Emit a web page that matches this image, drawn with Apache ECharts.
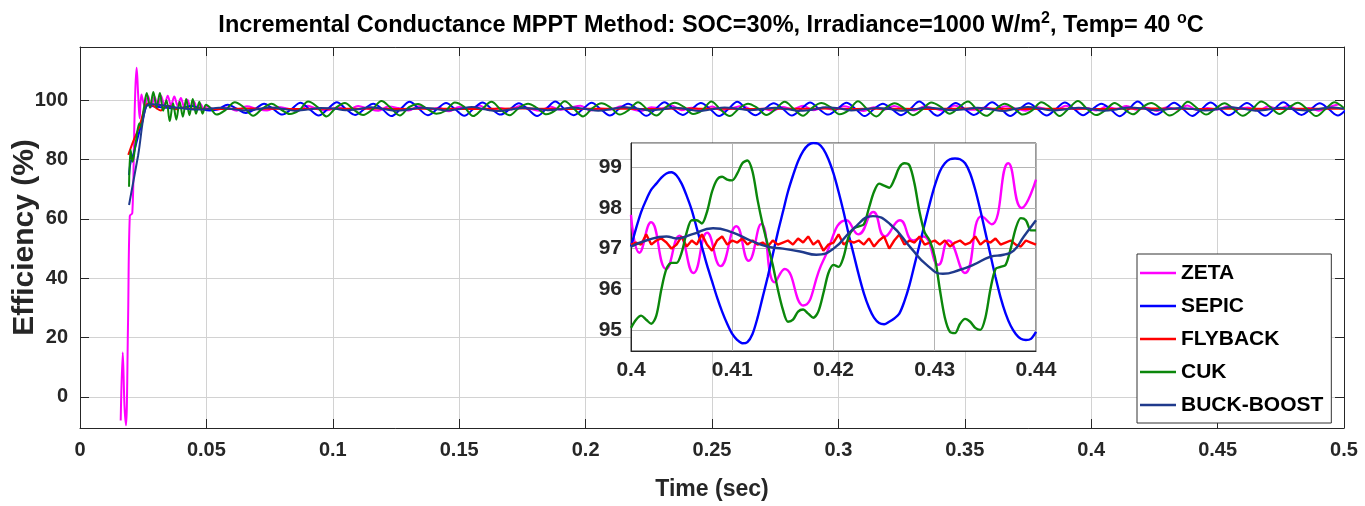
<!DOCTYPE html>
<html><head><meta charset="utf-8">
<script src="https://cdn.jsdelivr.net/npm/echarts@6/dist/echarts.min.js"></script>
<style>html,body{margin:0;padding:0;background:#fff}#c{width:1365px;height:506px}</style>
</head><body><div id="c"></div>
<script>
// ---------- names / colours ----------
const seriesNames = ['ZETA', 'SEPIC', 'FLYBACK', 'CUK', 'BUCK-BOOST'];
const seriesColors = ['#ff00ff', '#0000ff', '#ff0000', '#0b870b', '#1f3a8c'];

// ---------- main plot: start-up transients (time, value) ----------
const zetaEarlyT = [0.0161,0.0169,0.0176,0.0182,0.0190,0.0197,0.0207,0.0214,0.0219,0.0224,0.0230,0.0236,0.0243,0.0256,0.0269,0.0282,0.0295,0.0308,0.0321,0.0334,0.0347,0.0360,0.0373,0.0386,0.0399,0.0412,0.0425,0.0438,0.0451,0.0464,0.0477,0.0490];
const zetaEarlyV = [-8,15,-3,-9.6,25,61,62,88,104,111,102,94,102,98,101.5,97.8,101.2,98,101.5,98.2,101.6,98.3,101.3,98.2,100.8,97.8,100.2,97.5,99.5,97.2,98.8,97];
const sepicEarlyT = [0.0194,0.0200,0.0212,0.0230,0.0248,0.0262,0.0275,0.0288];
const sepicEarlyV = [74.8,79,82,88,93.5,98.0,98.4,98.1];
const flybackEarlyT = [0.0191,0.0210,0.0235,0.0250,0.0262,0.0275,0.0290,0.0305,0.0320,0.0335,0.0350,0.0365,0.0380,0.0400,0.0420];
const flybackEarlyV = [81.6,86.1,91.2,95.8,98.5,99,98.2,97.2,96.6,97.8,98.2,97.6,97.0,97.6,97.3];
const cukEarlyT = [0.0194,0.0200,0.0208,0.0222,0.0235,0.0242,0.0252,0.0264,0.0277,0.0290,0.0303,0.0316,0.0329,0.0342,0.0355,0.0368,0.0381,0.0394,0.0407,0.0420,0.0433,0.0446,0.0459,0.0472,0.0485,0.0498,0.0515];
const cukEarlyV = [70.9,83.3,79.3,86.7,92.3,91,97,102.5,97.5,102.8,97.6,102.5,96.5,100,93,99,93.5,99.5,94.5,100.5,95,100.5,95.5,99.5,95.5,98.5,97.5];
const buckEarlyT = [0.0194,0.0230,0.0266,0.0290,0.0320,0.0350,0.0380,0.0420,0.0460];
const buckEarlyV = [64.7,81.5,98.5,98.7,98.4,98.0,97.6,97.2,96.9];

// ---------- main plot: steady state, uniform sampling (start, step, values) ----------
const zetaSteadyStart = 0.05, zetaSteadyStep = 0.004;
const zetaSteadyV = [97.9,96.8,97.6,96.5,98.0,97.1,96.6,97.8,97.3,96.4,98.2,97.0,96.7,97.7,96.9,98.1,97.2,96.5,97.9,97.4,96.6,98.0,96.9,97.5,96.3,97.8,97.1,98.3,96.7,97.4,96.8,98.1,97.2,96.5,97.9,96.8,97.6,98.2,96.6,97.3,96.9,98.0,97.1,96.4,97.7,97.3,98.3,96.7,97.5,96.9,97.9,96.6,97.4,98.1,96.8,97.2,96.5,97.8,97.0,98.2,96.7,97.5,96.9,98.0,97.3,96.4,97.7,96.8,98.1,97.1,96.6,97.9,97.2,96.5,98.3,97.0,96.8,97.6,96.9,98.0,97.3,96.5,97.8,97.1,96.7,98.2,96.9,97.4,96.6,97.9,97.2,98.1,96.8,97.5,96.4,97.7,97.0,98.3,96.7,97.4,96.9,98.0,97.2,97.6,96.6,97.9,97.1,98.2,96.8,97.4,96.5,97.8,98.7];
const sepicSteadyStart = 0.0296, sepicSteadyStep = 0.0036;
const sepicSteadyV = [97.9,97.6,97.3,97.5, 98.1,97.3,96.6,97.1, 98.5,97.2,95.7,97.0, 98.9,97.1,95.2,97.0,
  99.2,97.0,94.9,97.1, 99.4,97.1,95.1,97.0, 98.9,97.0,94.7,97.1, 99.5,97.2,95.0,97.0,
  99.1,97.0,94.8,97.1, 99.3,97.1,95.2,97.0, 99.0,97.0,94.7,97.1, 99.6,97.1,95.0,97.0,
  99.2,97.0,94.9,97.1, 98.9,97.1,94.8,97.0, 99.4,97.0,95.1,97.1, 99.1,97.1,94.7,97.0,
  99.5,97.0,95.0,97.1, 99.0,97.1,94.9,97.0, 99.3,97.0,95.2,97.1, 99.2,97.1,94.7,97.0,
  98.9,97.0,95.0,97.1, 99.6,97.1,94.8,97.0, 99.1,97.0,95.1,97.1, 99.4,97.1,94.7,97.0,
  99.0,97.0,94.9,97.1, 99.3,97.1,95.0,97.0, 98.9,97.0,94.65,97.0, 99.6,97.0,95.15,97.0,
  99.2,97.0,94.75,97.0, 99.3,97.1,95.0,97.0, 99.1,97.0,94.8,97.1, 99.4,97.1,95.1,97.0,
  99.0,97.0,94.9,97.1, 99.2];
const flybackSteadyStart = 0.046, flybackSteadyStep = 0.01;
const flybackSteadyV = [97.2,97.1,97.25,97.15,97.1,97.2,97.15,97.25,97.1,97.2,97.15,97.1,97.2,97.25,97.15,97.1,97.2,97.15,97.1,97.25,97.2,97.15,97.1,97.2,97.15,97.25,97.1,97.2,97.15,97.1,97.2,97.25,97.15,97.1,97.2,97.15,97.1,97.2,97.25,97.15,97.1,97.2,97.15,97.1,97.2,97.15,97.2];
const cukSteadyStart = 0.054, cukSteadyStep = 0.003625;
const cukSteadyV = [95.2,96.8,99.4,97.6, 94.8,97.2,98.9,97.0, 95.4,96.6,99.6,97.8, 94.6,97.4,99.1,96.8,
  95.1,96.9,99.8,97.5, 94.9,97.7,98.8,97.1, 95.5,96.5,99.3,97.9, 94.7,97.1,99.5,96.9,
  95.0,97.5,98.9,97.4, 95.3,96.7,99.7,97.2, 94.6,97.3,99.0,97.6, 95.2,96.8,99.4,97.0,
  94.9,97.6,99.2,97.8, 95.4,96.6,99.6,96.9, 94.7,97.2,98.9,97.5, 95.1,97.0,99.5,97.1,
  94.8,97.5,99.1,97.7, 95.3,96.7,99.7,97.0, 94.6,97.4,99.0,97.4, 95.0,96.9,99.3,97.9,
  95.5,97.6,99.6,96.8, 94.8,97.0,98.9,97.3, 95.2,96.6,99.4,97.6, 94.7,97.3,99.8,97.1,
  95.05,96.7,99.15,97.1, 95.3,97.6,99.1,97.3, 94.9,96.6,99.5,97.4, 95.2,97.2,99.0,97.0,
  94.8,96.9,99.6,97.7, 95.4,97.5,99.2,97.1, 94.7,97.0,99.4,97.5, 95.0];
const buckSteadyStart = 0.05, buckSteadyStep = 0.005;
const buckSteadyV = [97.0,97.5,97.1,96.6, 97.0,97.6,97.2,96.5, 96.9,97.4,97.3,96.7, 97.0,97.7,97.1,96.5,
  96.9,97.5,97.2,96.6, 97.1,97.8,97.0,96.4, 96.9,97.4,97.2,96.7, 97.0,97.6,97.1,96.5,
  97.0,97.7,97.3,96.6, 96.9,97.5,97.1,96.4, 97.0,97.6,97.2,96.7, 97.1,97.5,97.0,96.5,
  96.9,97.7,97.3,96.6, 97.0,97.4,97.1,96.5, 96.9,97.6,97.2,96.7, 97.0,97.5,97.0,96.4,
  97.1,97.8,97.2,96.6, 97.0,97.5,97.1,96.5, 96.9,97.6,97.3,96.7, 97.0,97.4,97.1,96.6,
  97.0,97.7,97.2,96.5, 96.9,97.5,97.0,96.6, 97.1,97.6,97.2];

// ---------- inset (0.40 - 0.44 s) ----------
const insetStart = 0.4, insetStep = 0.0005;
const sepicInsetV = [97.05,97.5,97.9,98.2,98.45,98.6,98.75,98.85,98.88,98.8,
  98.6,98.3,97.95,97.5,97.05,96.6,96.2,95.8,95.45,95.15,
  94.9,94.75,94.67,94.7,94.9,95.3,95.8,96.3,96.85,97.4,
  97.9,98.4,98.8,99.15,99.4,99.55,99.6,99.58,99.45,99.2,
  98.85,98.4,97.9,97.35,96.85,96.35,95.9,95.55,95.3,95.17,
  95.14,95.2,95.28,95.4,95.7,96.1,96.6,97.1,97.6,98.1,
  98.55,98.9,99.1,99.2,99.22,99.2,99.1,98.85,98.45,97.95,
  97.4,96.85,96.3,95.8,95.4,95.1,94.9,94.78,94.75,94.78,
  94.95];
const cukInsetV = [95.05,95.25,95.35,95.25,95.15,95.35,96.0,96.5,96.65,96.65,
  96.9,97.4,97.7,97.7,97.62,97.9,98.4,98.7,98.77,98.7,
  98.68,98.85,99.1,99.17,98.9,98.2,97.6,97.1,96.6,96.0,
  95.5,95.2,95.25,95.45,95.5,95.4,95.3,95.45,95.9,96.4,
  96.6,96.55,96.8,97.3,97.5,97.55,97.6,98.0,98.4,98.6,
  98.55,98.5,98.7,99.0,99.1,99.05,98.6,97.9,97.4,97.2,
  96.8,96.0,95.3,94.95,94.92,95.15,95.27,95.2,95.05,95.0,
  95.3,96.0,96.5,96.55,96.6,97.0,97.5,97.75,97.7,97.45,
  97.45];
const flybackInsetV = [97.10,97.15,97.10,97.35,97.10,97.20,97.25,97.15,97.00,97.10,
  97.30,97.05,97.20,97.10,97.35,97.10,96.95,97.20,97.30,97.10,
  97.20,97.15,97.25,97.10,97.20,97.10,97.15,97.05,97.20,97.10,
  97.15,97.20,97.10,97.25,97.15,97.30,97.10,97.20,96.95,97.10,
  97.15,97.35,97.10,97.20,97.15,97.20,97.10,97.25,97.05,97.20,
  97.30,97.00,97.20,97.35,97.10,97.20,97.15,97.30,97.10,97.15,
  97.20,97.10,97.20,97.05,97.15,97.20,97.10,97.15,97.30,97.10,
  97.20,97.15,97.25,97.10,97.15,97.20,97.10,97.05,97.20,97.15,
  97.10];
const zetaInsetT = [0.4000,0.40083,0.40198,0.40347,0.40479,0.40617,0.40752,0.40884,0.41040,0.41162,0.41287,0.41419,0.41518,0.41700,0.41898,0.42130,0.42245,0.42393,0.42508,0.42656,0.42788,0.42887,0.43035,0.43134,0.43298,0.43463,0.43562,0.43726,0.43858,0.44000];
const zetaInsetV = [97.83,96.9,97.65,96.5,97.32,96.4,97.39,96.57,97.55,96.7,97.61,96.17,96.5,95.6,96.7,97.7,97.35,97.9,97.3,97.7,97.2,97.3,96.6,97.2,96.4,97.8,97.6,99.1,98.0,98.7];
const buckInsetT = [0.4000,0.4015,0.4035,0.4045,0.4060,0.4081,0.4100,0.4118,0.4135,0.4150,0.4167,0.4183,0.4200,0.4220,0.4239,0.4256,0.4277,0.4292,0.4308,0.4325,0.4338,0.4355,0.4368,0.4378,0.4388,0.4400];
const buckInsetV = [97.05,97.2,97.3,97.25,97.35,97.5,97.4,97.2,97.05,97.0,96.93,96.85,97.0,97.5,97.8,97.6,97.0,96.6,96.38,96.48,96.6,96.8,96.85,96.95,97.3,97.7];

// ---------- axes ticks ----------
const mainXMin = 0, mainXMax = 0.5, mainXStep = 0.05;
const mainYMin = -10.5, mainYMax = 118, mainYStep = 20;
const insetXMin = 0.4, insetXMax = 0.44, insetXStep = 0.01;
const insetYMin = 94.48, insetYMax = 99.6, insetYStep = 1;

// ---------- helpers ----------
function pairs(T, V) { const n = Math.min(T.length, V.length), out = []; for (let i = 0; i < n; i++) out.push([T[i], V[i]]); return out; }
function uniform(t0, dt, V) { return V.map((v, i) => [+(t0 + i * dt).toFixed(6), v]); }

const FONT = '"Liberation Sans", Arial, Helvetica, sans-serif';
const AXC = '#262626';

const mainData = [
  pairs(zetaEarlyT, zetaEarlyV).concat(uniform(zetaSteadyStart, zetaSteadyStep, zetaSteadyV)),
  pairs(sepicEarlyT, sepicEarlyV).concat(uniform(sepicSteadyStart, sepicSteadyStep, sepicSteadyV)),
  pairs(flybackEarlyT, flybackEarlyV).concat(uniform(flybackSteadyStart, flybackSteadyStep, flybackSteadyV)),
  pairs(cukEarlyT, cukEarlyV).concat(uniform(cukSteadyStart, cukSteadyStep, cukSteadyV)),
  pairs(buckEarlyT, buckEarlyV).concat(uniform(buckSteadyStart, buckSteadyStep, buckSteadyV))
];
const insetData = [
  pairs(zetaInsetT, zetaInsetV),
  uniform(insetStart, insetStep, sepicInsetV),
  uniform(insetStart, insetStep, flybackInsetV),
  uniform(insetStart, insetStep, cukInsetV),
  pairs(buckInsetT, buckInsetV)
];
const insetSmooth = [0.5, 0.3, false, 0.3, 0.5];

const series = [];
seriesNames.forEach((name, i) => {
  series.push({
    name, type: 'line', xAxisIndex: 0, yAxisIndex: 0, data: mainData[i],
    symbol: 'none', showSymbol: false, smooth: 0.35, z: 2 + i * 0.01,
    lineStyle: { color: seriesColors[i], width: 2 }, itemStyle: { color: seriesColors[i] }
  });
});
seriesNames.forEach((name, i) => {
  series.push({
    name, type: 'line', xAxisIndex: 2, yAxisIndex: 2, data: insetData[i],
    symbol: 'none', showSymbol: false, smooth: insetSmooth[i], z: 14 + i * 0.01,
    lineStyle: { color: seriesColors[i], width: 2.4 }, itemStyle: { color: seriesColors[i] }
  });
});

const tickLbl = (size) => ({ fontFamily: FONT, fontWeight: 'bold', fontSize: size, color: AXC });
const boxLine = { show: true, onZero: false, lineStyle: { color: AXC, width: 1 } };

const option = {
  animation: false,
  backgroundColor: '#fff',
  title: {
    text: '{a|Incremental Conductance MPPT Method: SOC=30%, Irradiance=1000 W/m}{s|2}{a|, Temp= 40 }{s|o}{a|C}',
    left: 706, top: 6, textAlign: 'center',
    textStyle: { rich: {
      a: { fontFamily: FONT, fontWeight: 'bold', fontSize: 23.5, color: '#000' },
      s: { fontFamily: FONT, fontWeight: 'bold', fontSize: 16, color: '#000', padding: [0, 0, 13, 0] }
    } }
  },
  legend: {
    data: seriesNames, orient: 'vertical', left: 1137, top: 254,
    icon: 'rect', itemWidth: 36, itemHeight: 2.5, itemGap: 9, padding: [7, 8, 6, 3],
    backgroundColor: '#fff', borderColor: '#333', borderWidth: 1, z: 30, selectedMode: false,
    textStyle: { fontFamily: FONT, fontWeight: 'bold', fontSize: 21, color: '#000', lineHeight: 24 }
  },
  grid: [
    { left: 80, top: 47, width: 1264, height: 381, show: false, outerBoundsMode: 'none', containLabel: false },
    { left: 631, top: 143, width: 405, height: 208, show: true, backgroundColor: '#fff', borderColor: '#333', borderWidth: 1, z: 10, outerBoundsMode: 'none', containLabel: false }
  ],
  xAxis: [
    { type: 'value', gridIndex: 0, min: mainXMin, max: mainXMax, interval: mainXStep, z: 1,
      axisLine: boxLine,
      axisTick: { show: true, inside: true, length: 9, lineStyle: { color: AXC } },
      splitLine: { show: true, lineStyle: { color: '#d2d2d2', width: 1 } },
      axisLabel: Object.assign({ margin: 12 }, tickLbl(20)),
      name: 'Time (sec)', nameLocation: 'middle', nameGap: 50, nameMoveOverlap: false,
      nameTextStyle: { fontFamily: FONT, fontWeight: 'bold', fontSize: 23, color: AXC } },
    { type: 'value', gridIndex: 0, position: 'top', min: mainXMin, max: mainXMax, interval: mainXStep, z: 1,
      axisLine: boxLine,
      axisTick: { show: true, inside: true, length: 9, lineStyle: { color: AXC } },
      splitLine: { show: false }, axisLabel: { show: false } },
    { type: 'value', gridIndex: 1, min: insetXMin, max: insetXMax, interval: insetXStep, z: 12,
      axisLine: boxLine,
      axisTick: { show: false },
      splitLine: { show: true, lineStyle: { color: '#b4b4b4', width: 1 } },
      axisLabel: Object.assign({ margin: 9 }, tickLbl(21)) }
  ],
  yAxis: [
    { type: 'value', gridIndex: 0, min: mainYMin, max: mainYMax, minInterval: mainYStep, maxInterval: mainYStep, z: 1,
      axisLine: boxLine,
      axisTick: { show: true, inside: true, length: 9, lineStyle: { color: AXC } },
      splitLine: { show: true, lineStyle: { color: '#d2d2d2', width: 1 } },
      axisLabel: Object.assign({ margin: 12, showMinLabel: false, showMaxLabel: false }, tickLbl(20)),
      name: 'Efficiency (%)', nameLocation: 'middle', nameGap: 40, nameRotate: 90, nameMoveOverlap: false,
      nameTextStyle: { fontFamily: FONT, fontWeight: 'bold', fontSize: 30, color: AXC } },
    { type: 'value', gridIndex: 0, position: 'right', min: mainYMin, max: mainYMax, minInterval: mainYStep, maxInterval: mainYStep, z: 1,
      axisLine: boxLine,
      axisTick: { show: true, inside: true, length: 9, lineStyle: { color: AXC } },
      splitLine: { show: false }, axisLabel: { show: false } },
    { type: 'value', gridIndex: 1, min: insetYMin, max: insetYMax, minInterval: insetYStep, maxInterval: insetYStep, z: 12,
      axisLine: boxLine,
      axisTick: { show: false },
      splitLine: { show: true, lineStyle: { color: '#b4b4b4', width: 1 } },
      axisLabel: Object.assign({ margin: 9, showMinLabel: false, showMaxLabel: false }, tickLbl(21)) }
  ],
  series
};
const chart = echarts.init(document.getElementById('c'), null, { renderer: 'canvas' });
chart.setOption(option);
</script></body></html>
